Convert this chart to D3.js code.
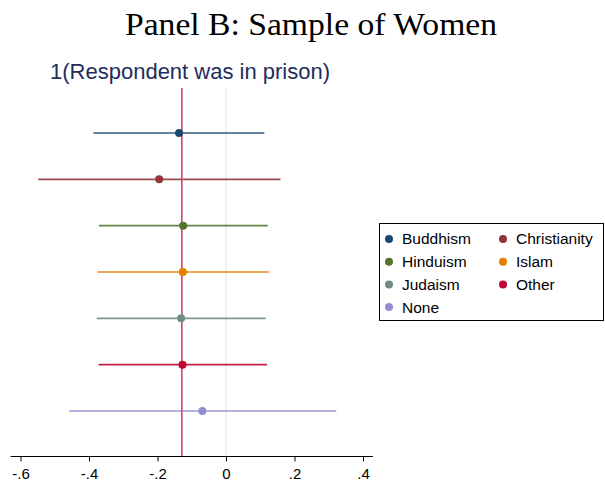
<!DOCTYPE html>
<html>
<head>
<meta charset="utf-8">
<script src="https://cdn.jsdelivr.net/npm/d3@7"></script>
<style>
  body { margin: 0; background: #fff; }
  svg { display: block; }
</style>
</head>
<body>
<div id="chart"></div>
<script>
// data
var religions = ["Buddhism", "Christianity", "Hinduism", "Islam", "Judaism", "Other", "None"];
var estimates = [-0.137, -0.195, -0.125, -0.126, -0.131, -0.127, -0.069];
var lowerCI = [-0.387, -0.548, -0.371, -0.375, -0.377, -0.372, -0.458];
var upperCI = [0.112, 0.159, 0.122, 0.125, 0.116, 0.120, 0.322];
var colors = ["#1a476f", "#90353b", "#55752f", "#e37e00", "#6e8e84", "#c10534", "#938dd2"];
var refValue = -0.129;
var xTicks = [-0.6, -0.4, -0.2, 0, 0.2, 0.4];

var width = 605, height = 485;

var svg = d3.select("#chart").append("svg")
  .attr("width", width)
  .attr("height", height);

var x = d3.scaleLinear().domain([-0.6, 0.4]).range([20.5, 363]);
var y = d3.scalePoint().domain(religions).range([133, 411]);

// title
svg.append("text")
  .attr("x", 125)
  .attr("y", 35)
  .attr("textLength", 372)
  .attr("lengthAdjust", "spacingAndGlyphs")
  .style("font-family", "'Liberation Serif', serif")
  .style("font-size", "32px")
  .text("Panel B: Sample of Women");

svg.append("text")
  .attr("x", 50)
  .attr("y", 79)
  .style("font-family", "'Liberation Sans', Arial, sans-serif")
  .style("font-size", "22px")
  .style("fill", "#1e2d5c")
  .text("1(Respondent was in prison)");

// zero line
svg.append("line")
  .attr("x1", x(0)).attr("x2", x(0))
  .attr("y1", 88).attr("y2", 456)
  .attr("stroke", "#e6eff0")
  .attr("stroke-width", 1.5);

// CI lines
svg.selectAll(".ci")
  .data(religions)
  .enter().append("line")
  .attr("class", "ci")
  .attr("x1", function(d, i) { return x(lowerCI[i]); })
  .attr("x2", function(d, i) { return x(upperCI[i]); })
  .attr("y1", function(d) { return y(d); })
  .attr("y2", function(d) { return y(d); })
  .attr("stroke", function(d, i) { return colors[i]; })
  .attr("stroke-opacity", 0.9)
  .attr("stroke-width", 1.6);

// reference line
svg.append("line")
  .attr("x1", x(refValue)).attr("x2", x(refValue))
  .attr("y1", 88).attr("y2", 456)
  .attr("stroke", "#d2436a")
  .attr("stroke-width", 1.6);

// points
svg.selectAll(".pt")
  .data(religions)
  .enter().append("circle")
  .attr("class", "pt")
  .attr("cx", function(d, i) { return x(estimates[i]); })
  .attr("cy", function(d) { return y(d); })
  .attr("r", 4)
  .attr("fill", function(d, i) { return colors[i]; });

// x axis
var xAxis = d3.axisBottom(x)
  .tickValues(xTicks)
  .tickSize(5)
  .tickFormat(function(d) {
    if (d === 0) return "0";
    return d3.format(".1f")(d).replace("0.", ".").replace("−", "-");
  });

var gx = svg.append("g")
  .attr("transform", "translate(0,456.5)")
  .call(xAxis);
gx.select(".domain").attr("d", "M10.5,0H373");
gx.selectAll("line").attr("stroke", "#000");
gx.selectAll("text")
  .attr("dy", "0.95em")
  .style("font-family", "'Liberation Sans', Arial, sans-serif")
  .style("font-size", "15px")
  .style("fill", "#000");

// legend
svg.append("rect")
  .attr("x", 379.5).attr("y", 223.5)
  .attr("width", 224).attr("height", 97)
  .attr("fill", "#fff")
  .attr("stroke", "#000")
  .attr("stroke-width", 1);

var legend = svg.selectAll(".leg")
  .data(religions)
  .enter().append("g")
  .attr("class", "leg")
  .attr("transform", function(d, i) {
    return "translate(" + (i % 2 === 0 ? 389 : 503) + "," + (239 + Math.floor(i / 2) * 22.7) + ")";
  });

legend.append("circle")
  .attr("r", 4)
  .attr("fill", function(d, i) { return colors[i]; });

legend.append("text")
  .attr("x", 13)
  .attr("dy", "0.35em")
  .style("font-family", "'Liberation Sans', Arial, sans-serif")
  .style("font-size", "15.5px")
  .text(function(d) { return d; });
</script>
</body>
</html>
